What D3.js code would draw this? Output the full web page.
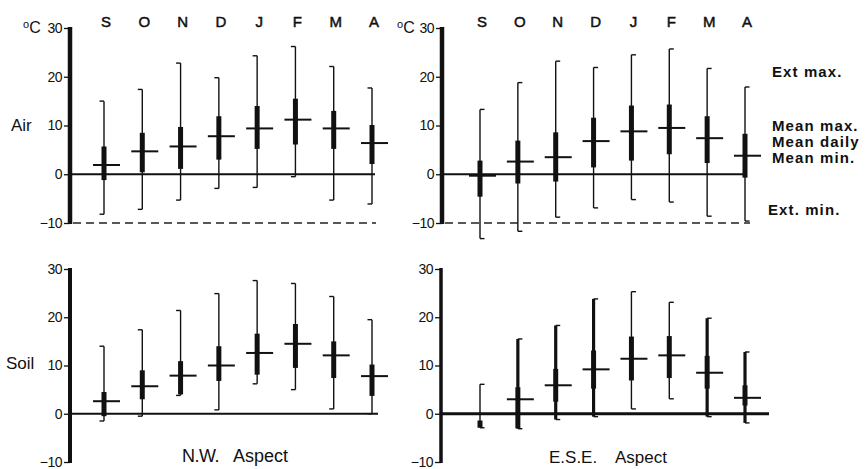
<!DOCTYPE html>
<html><head><meta charset="utf-8">
<script src="https://cdn.jsdelivr.net/npm/d3@7"></script>
<style>body{margin:0;background:#fff}svg{display:block}text{font-family:"Liberation Sans",Arial,Helvetica,sans-serif;fill:#111}</style>
</head><body><svg id="c" width="866" height="469"></svg>
<script>
const months = ["S","O","N","D","J","F","M","A"];
const yTicks = [30,20,10,0,-10];

// N.W. aspect, air
const nwAirExtMax  = [15.0,17.4,22.8,19.8,24.3,26.2,22.1,17.7];
const nwAirMeanMax = [5.7,8.5,9.7,11.9,14.0,15.5,13.0,10.1];
const nwAirMean    = [1.9,4.7,5.7,7.8,9.4,11.2,9.4,6.4];
const nwAirMeanMin = [-1.2,0.4,1.1,3.0,5.2,6.1,5.2,2.1];
const nwAirExtMin  = [-8.2,-7.2,-5.3,-2.9,-2.7,-0.5,-5.3,-6.1];

// E.S.E. aspect, air
const eseAirExtMax  = [13.3,18.8,23.2,21.9,24.5,25.7,21.7,17.9];
const eseAirMeanMax = [2.8,6.9,8.6,11.6,14.1,14.3,11.9,8.3];
const eseAirMean    = [-0.3,2.6,3.5,6.8,8.8,9.5,7.4,3.8];
const eseAirMeanMin = [-4.6,-1.9,-1.5,1.4,2.8,4.1,2.3,-0.7];
const eseAirExtMin  = [-13.2,-11.7,-8.8,-6.9,-5.2,-5.7,-8.6,-9.6];

// N.W. aspect, soil
const nwSoilExtMax  = [14.0,17.4,21.4,24.9,27.6,27.0,24.3,19.5];
const nwSoilMeanMax = [4.5,9.0,10.9,14.0,16.6,18.6,15.0,10.2];
const nwSoilMean    = [2.6,5.7,7.9,10.0,12.6,14.5,12.1,7.8];
const nwSoilMeanMin = [-0.5,3.0,4.0,6.8,8.1,9.5,7.4,3.7];
const nwSoilExtMin  = [-1.5,-0.5,3.8,0.8,6.2,5.0,1.0,0.0];

// E.S.E. aspect, soil
const eseSoilExtMax  = [6.1,15.5,18.3,23.8,25.3,23.1,19.8,12.8];
const eseSoilMeanMax = [-1.4,5.5,9.3,13.1,16.0,16.1,12.0,5.9];
const eseSoilMean    = [null,3.0,5.9,9.2,11.4,12.1,8.5,3.3];
const eseSoilMeanMin = [-2.9,-3.0,2.5,5.2,6.9,7.4,5.2,1.7];
const eseSoilExtMin  = [-2.9,-3.1,-1.2,-0.6,1.0,3.1,-0.6,-1.9];

// style: months whose whiskers are drawn heavy in the E.S.E. soil panel
const eseSoilHeavy = ["O","N","D","M","A"];

const legendLabels = [["Ext max.",21],["Mean max.",10],["Mean daily",6.7],["Mean min.",3.4],["Ext. min.",-7.3]];

const svg = d3.select("#c");

function pack(a,b,c,d,e){return months.map((m,i)=>({m,extMax:a[i],meanMax:b[i],mean:c[i],meanMin:d[i],extMin:e[i]}));}

const panels = [
  {data:pack(nwAirExtMax,nwAirMeanMax,nwAirMean,nwAirMeanMin,nwAirExtMin), ax:70, top:28, bot:223, x0:104, x1:372, zeroEnd:375, dashEnd:376, serif:-1, top_:true, axisW:4.5, zeroW:2},
  {data:pack(eseAirExtMax,eseAirMeanMax,eseAirMean,eseAirMeanMin,eseAirExtMin), ax:442, top:28, bot:223, x0:480, x1:745, zeroEnd:745, dashEnd:750, serif:1, top_:true, axisW:4.5, zeroW:2},
  {data:pack(nwSoilExtMax,nwSoilMeanMax,nwSoilMean,nwSoilMeanMin,nwSoilExtMin), ax:70, top:269, bot:462, x0:104, x1:372, zeroEnd:378, serif:-1, top_:false, axisW:4, zeroW:2},
  {data:pack(eseSoilExtMax,eseSoilMeanMax,eseSoilMean,eseSoilMeanMin,eseSoilExtMin), ax:441, top:269, bot:462, x0:480, x1:745, zeroEnd:769, serif:1, top_:false, axisW:3.5, zeroW:3.2, heavy:eseSoilHeavy},
];

panels.forEach((p,pi)=>{
  const g = svg.append("g");
  const y = d3.scaleLinear().domain([-10,30]).range([p.bot,p.top]);
  const x = d3.scalePoint().domain(months).range([p.x0,p.x1]);
  const axis = d3.axisLeft(y).tickValues(yTicks).tickSize(6).tickPadding(2).tickFormat(d=>d<0?"\u2212"+Math.abs(d):d);
  const ag = g.append("g").attr("transform",`translate(${p.ax},0)`).call(axis);
  ag.select(".domain").remove();
  ag.selectAll(".tick line").attr("stroke","#111").attr("stroke-width",1.3);
  ag.selectAll(".tick text").attr("font-size",14).attr("fill","#111").attr("letter-spacing",-0.5).style("font-family","Liberation Sans, Arial, sans-serif");
  g.append("line").attr("x1",p.ax).attr("x2",p.ax).attr("y1",y(30)-1).attr("y2",y(-10)+1).attr("stroke","#111").attr("stroke-width",p.axisW);
  g.append("line").attr("x1",p.ax).attr("x2",p.zeroEnd).attr("y1",y(0)).attr("y2",y(0)).attr("stroke","#111").attr("stroke-width",p.zeroW);
  if(p.top_){
    g.append("line").attr("x1",p.ax+3).attr("x2",p.dashEnd).attr("y1",y(-10)).attr("y2",y(-10)).attr("stroke","#222").attr("stroke-width",1.4).attr("stroke-dasharray","8,5");
    g.selectAll(".mon").data(months).join("text").attr("x",d=>x(d)+2).attr("y",27).attr("text-anchor","middle")
      .attr("font-size",15).attr("stroke","#111").attr("stroke-width",0.5).text(d=>d);
  }
  const heavy = new Set(p.heavy||[]);
  const bars = g.selectAll(".bar").data(p.data).join("g");
  bars.append("line").attr("x1",d=>x(d.m)).attr("x2",d=>x(d.m)).attr("y1",d=>y(d.extMax)).attr("y2",d=>y(d.extMin))
      .attr("stroke","#111").attr("stroke-width",d=>heavy.has(d.m)?3.2:1.4);
  bars.append("line").attr("x1",d=>x(d.m)).attr("x2",d=>x(d.m)+p.serif*4.5).attr("y1",d=>y(d.extMax)).attr("y2",d=>y(d.extMax)).attr("stroke","#111").attr("stroke-width",1.4);
  bars.append("line").attr("x1",d=>x(d.m)).attr("x2",d=>x(d.m)+p.serif*4.5).attr("y1",d=>y(d.extMin)).attr("y2",d=>y(d.extMin)).attr("stroke","#111").attr("stroke-width",1.4);
  bars.append("line").attr("x1",d=>x(d.m)).attr("x2",d=>x(d.m)).attr("y1",d=>y(d.meanMax)).attr("y2",d=>y(d.meanMin)).attr("stroke","#111").attr("stroke-width",5);
  bars.filter(d=>d.mean!=null).append("line").attr("x1",d=>x(d.m)-11).attr("x2",d=>x(d.m)+16).attr("y1",d=>y(d.mean)).attr("y2",d=>y(d.mean)).attr("stroke","#111").attr("stroke-width",2);
  p.y = y; p.x = x;
});

function degC(xx,yy){
  const t = svg.append("text").attr("x",xx).attr("y",yy).attr("font-size",16);
  t.append("tspan").attr("font-size",11).attr("dy",-5).text("o");
  t.append("tspan").attr("dy",5).text("C");
}
degC(23,33); degC(397,33);

svg.append("text").attr("x",11).attr("y",131).attr("font-size",17).text("Air");
svg.append("text").attr("x",6).attr("y",369).attr("font-size",17).text("Soil");
svg.append("text").attr("x",182).attr("y",462).attr("font-size",18).attr("letter-spacing",-0.5).text("N.W.");
svg.append("text").attr("x",233).attr("y",462).attr("font-size",18).text("Aspect");
svg.append("text").attr("x",549).attr("y",463).attr("font-size",17).style("font-family","'Liberation Sans Narrow','Arial Narrow',sans-serif").text("E.S.E.");
svg.append("text").attr("x",615).attr("y",463).attr("font-size",17).style("font-family","'Liberation Sans Narrow','Arial Narrow',sans-serif").text("Aspect");

const ly = panels[1].y;
svg.selectAll(".leg").data(legendLabels).join("text")
  .attr("x",(d,i)=>i===4?768:772).attr("y",d=>ly(d[1])+5)
  .attr("font-size",15).attr("font-weight","bold").attr("letter-spacing",1.1).text(d=>d[0]);
</script></body></html>
